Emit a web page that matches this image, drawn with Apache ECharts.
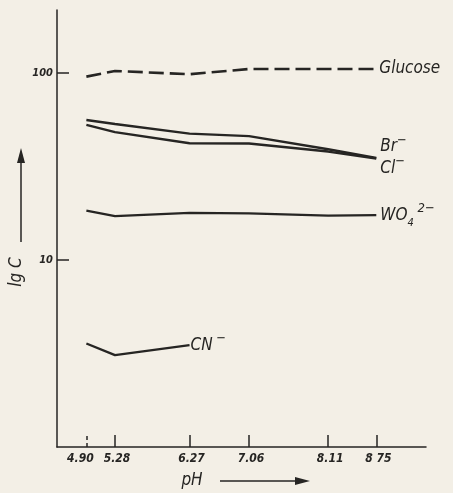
<!DOCTYPE html>
<html><head><meta charset="utf-8">
<script src="https://cdn.jsdelivr.net/npm/echarts@6/dist/echarts.min.js"></script>
<style>html,body{margin:0;padding:0;background:#f3efe6;}#c{width:453px;height:493px;}</style>
</head><body><div id="c"></div>
<script>
const phValues = [4.90, 5.28, 6.27, 7.06, 8.11, 8.75];
const phLabels = ['4.90', '5.28', '6.27', '7.06', '8.11', '8 75'];
const glucose = [95.9, 102.9, 98.8, 105.4, 105.4, 105.4];
const bromide = [56.2, 53.5, 47.5, 46.1, 39.2, 35.2];
const chloride = [52.9, 48.4, 42.2, 42.1, 38.1, 35.0];
const tungstate = [18.4, 17.2, 17.9, 17.8, 17.3, 17.4];
const cyanidePh = [4.90, 5.28, 6.27];
const cyanide = [3.58, 3.10, 3.51];
const yTickValues = [10, 100];

const ink = '#262523';
const font = 'DejaVu Sans Condensed';
const pairs = (xs, ys) => xs.map((x, i) => [x, ys[i]]);

const chart = echarts.init(document.getElementById('c'));
const rich = {
  m: {fontSize: 17, fontFamily: font, fontStyle: 'italic', color: ink, lineHeight: 26},
  sup: {fontSize: 13, fontFamily: font, fontStyle: 'italic', color: ink, verticalAlign: 'top'},
  sub: {fontSize: 11, fontFamily: font, fontStyle: 'italic', color: ink, verticalAlign: 'bottom'}
};
const lbl = (text, offset, dist) => ({
  show: true, formatter: text, offset: offset, distance: dist,
  fontFamily: font, fontStyle: 'italic', color: ink, rich: rich
});
const tickFont = {fontFamily: font, fontStyle: 'italic', fontWeight: 'bold', fontSize: 12, color: ink};
chart.setOption({
  backgroundColor: '#f3efe6',
  animation: false,
  grid: {left: 57, right: 27, top: 10, bottom: 46},
  xAxis: {
    type: 'value', min: 4.51, max: 9.41,
    axisLine: {lineStyle: {color: ink, width: 1.5}},
    axisTick: {show: true, inside: true, length: 12, lineStyle: {color: ink, width: 1.5},
      customValues: phValues.slice(1)},
    axisLabel: {customValues: phValues, margin: 6,
      formatter: v => {
        const i = phValues.findIndex(p => Math.abs(p - v) < 1e-6);
        if (i < 0) return '';
        return i === 0 ? '{l|' + phLabels[i] + '}' : '{n|' + phLabels[i] + '}';
      },
      rich: {l: Object.assign({padding: [0, 12, 0, 0]}, tickFont), n: Object.assign({padding: [0, 0, 0, 4]}, tickFont)},
      ...tickFont},
    splitLine: {show: false}
  },
  yAxis: {
    type: 'log', logBase: 10, min: 1, max: 218,
    axisLine: {show: true, lineStyle: {color: ink, width: 1.5}},
    axisTick: {show: true, inside: true, length: 12, lineStyle: {color: ink, width: 1.5},
      customValues: yTickValues},
    axisLabel: {customValues: yTickValues, margin: 4,
      fontFamily: font, fontStyle: 'italic', fontWeight: 'bold', fontSize: 11, color: ink},
    splitLine: {show: false}
  },
  series: [
    {type: 'line', data: pairs(phValues, glucose), symbol: 'none',
      lineStyle: {color: ink, width: 2.6, type: [15, 6]},
      endLabel: lbl('{m|Glucose}', [0, 0], 3), z: 3,
      markLine: {silent: true, symbol: 'none', label: {show: false},
        lineStyle: {color: ink, width: 1.5, type: [4, 3]},
        data: [[{coord: [phValues[0], 1]}, {coord: [phValues[0], 1.16]}]]}},
    {type: 'line', data: pairs(phValues, bromide), symbol: 'none',
      lineStyle: {color: ink, width: 2.4},
      endLabel: lbl('{m|Br}{sup|−}', [0, -11], 4)},
    {type: 'line', data: pairs(phValues, chloride), symbol: 'none',
      lineStyle: {color: ink, width: 2.4},
      endLabel: lbl('{m|Cl}{sup|−}', [0, 10], 4)},
    {type: 'line', data: pairs(phValues, tungstate), symbol: 'none',
      lineStyle: {color: ink, width: 2.4},
      endLabel: lbl('{m|WO}{sub|4}{sup| 2−}', [0, 0], 4)},
    {type: 'line', data: pairs(cyanidePh, cyanide), symbol: 'none',
      lineStyle: {color: ink, width: 2.4},
      endLabel: lbl('{m|CN}{sup| −}', [0, 0], 1)}
  ],
  graphic: [
    {type: 'line', shape: {x1: 21, y1: 242, x2: 21, y2: 160}, style: {stroke: ink, lineWidth: 1.5}},
    {type: 'polygon', shape: {points: [[21, 148], [17, 163], [25, 163]]}, style: {fill: ink}},
    {type: 'text', x: 17, y: 272, rotation: Math.PI / 2,
      style: {text: 'lg C', font: 'italic 17px "DejaVu Sans Condensed"', fill: ink, align: 'center', verticalAlign: 'middle'}},
    {type: 'text', x: 192, y: 481,
      style: {text: 'pH', font: 'italic 17px "DejaVu Sans Condensed"', fill: ink, align: 'center', verticalAlign: 'middle'}},
    {type: 'line', shape: {x1: 220, y1: 481, x2: 298, y2: 481}, style: {stroke: ink, lineWidth: 1.5}},
    {type: 'polygon', shape: {points: [[310, 481], [295, 477], [295, 485]]}, style: {fill: ink}}
  ]
});
</script></body></html>
